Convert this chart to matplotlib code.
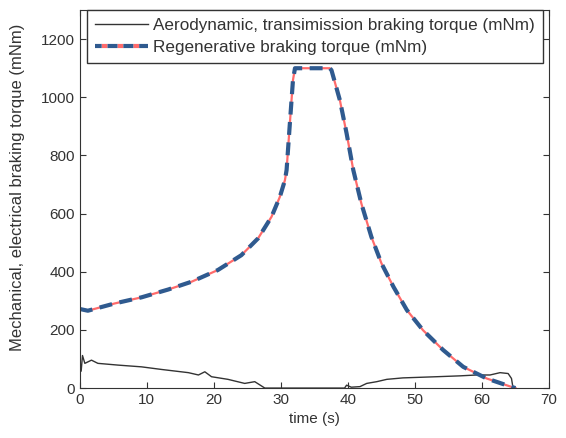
import numpy as np
import matplotlib.pyplot as plt
from matplotlib.lines import Line2D

plt.rcParams['font.family'] = ['Liberation Sans', 'DejaVu Sans']

# regenerative braking torque (mNm)
regen_t = [0, 1.2, 5.2, 9.2, 13.2, 16.7, 20.6, 24.1, 26.6, 28.6, 29.85, 30.6, 30.85, 31.3, 31.8, 32.1,
           37.3, 37.55, 38.8, 39.8, 40.8, 42.0, 43.5, 45.0, 46.8, 48.8, 51.2, 54.2, 57.2, 60.7, 64.4, 65.0]
regen_y = [272, 266, 291, 312, 339, 366, 406, 457, 515, 589, 658, 715, 750, 898, 1059, 1100,
           1100, 1093, 990, 876, 750, 635, 520, 429, 348, 268, 199, 131, 73, 33, 4, 0]

# aerodynamic + transmission braking torque (mNm)
aero_t = [0, 0.2, 0.4, 0.75, 1.74, 2.7, 5.7, 9.2, 12.2, 16.2, 17.7, 18.65, 19.65, 22.1, 24.6, 26.1, 27.6,
          39.5, 39.8, 40.5, 41.8, 42.8, 44.3, 45.8, 48.2, 50.7, 53.2, 56.7, 59.2, 61.2, 62.7, 63.9, 64.4, 64.6]
aero_y = [100, 58, 112, 85, 96, 85, 79, 73, 64, 53, 45, 56, 39, 30, 16, 22, 0,
          0, 10, 3, 5, 16, 22, 30, 35, 37, 39, 42, 45, 45, 53, 50, 33, 5]

red = '#ff6b6b'
blue = '#2f5a8f'

fig = plt.figure(figsize=(5.66, 4.38), dpi=100)
ax = fig.add_axes([0.141, 0.114, 0.829, 0.863])

l1, = ax.plot(aero_t, aero_y, color='#333333', lw=1.0)
ax.plot(regen_t, regen_y, color=red, lw=1.6)
ax.plot(regen_t, regen_y, color=blue, lw=3.0, dashes=(3.1, 1.8))

ax.set_xlim(0, 70)
ax.set_ylim(0, 1300)
ax.set_xticks(np.arange(0, 71, 10))
ax.set_yticks(np.arange(0, 1201, 200))
ax.tick_params(direction='in', top=True, right=True, labelsize=11, colors='#333333', length=4)
for s in ax.spines.values():
    s.set_color('#333333')

ax.set_xlabel('time (s)', fontsize=11, color='#333333')
ax.set_ylabel('Mechanical, electrical braking torque (mNm)', fontsize=12, color='#333333')
ax.yaxis.set_label_coords(-0.117, 0.53)

# legend sample: blue dashes with red gaps
h_regen = Line2D([], [], color=blue, lw=3.0, linestyle=(0.8, (2.4, 1.4)), gapcolor=red)
leg = ax.legend([l1, h_regen],
                ['Aerodynamic, transimission braking torque (mNm)', 'Regenerative braking torque (mNm)'],
                loc='upper left', bbox_to_anchor=(0.015, 1.0), fontsize=12.3,
                fancybox=False, framealpha=1, edgecolor='#333333', handlelength=3.15,
                borderpad=0.45, labelspacing=0.42, handletextpad=0.3, borderaxespad=0)
leg.get_frame().set_linewidth(1.0)
for t in leg.get_texts():
    t.set_color('#333333')

fig.savefig('out.png', dpi=100)
